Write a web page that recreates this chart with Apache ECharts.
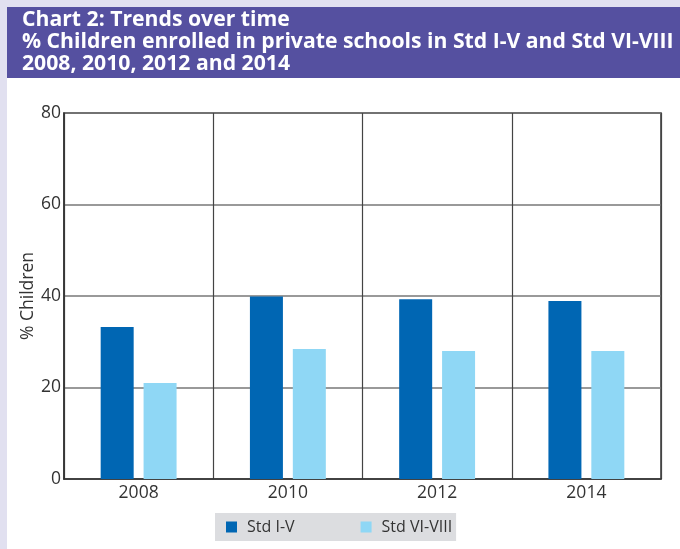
<!DOCTYPE html>
<html><head><meta charset="utf-8">
<script src="https://cdn.jsdelivr.net/npm/echarts@6/dist/echarts.min.js"></script>
<style>html,body{margin:0;padding:0;background:#e1e0f0;}#c{width:680px;height:549px;}</style>
</head><body><div id="c"></div>
<script>
const categories = ['2008', '2010', '2012', '2014'];
const stdIV = [33.2, 39.9, 39.3, 38.9];
const stdVIVIII = [21.0, 28.4, 28.0, 28.0];
const seriesNames = ['Std I-V', 'Std VI-VIII'];
const titleLines = ['Chart 2: Trends over time', '% Children enrolled in private schools in Std I-V and Std VI-VIII', '2008, 2010, 2012 and 2014'];

const font = 'Open Sans';
const chart = echarts.init(document.getElementById('c'));
chart.setOption({
  animation: false,
  backgroundColor: '#e1e0f0',
  graphic: [
    {type: 'rect', z: -10, shape: {x: 7, y: 7, width: 673, height: 71}, style: {fill: '#5550a0'}},
    {type: 'rect', z: -10, shape: {x: 7, y: 78, width: 673, height: 471}, style: {fill: '#ffffff'}}
  ],
  title: {
    text: titleLines.join('\n'),
    left: 17, top: 4,
    textStyle: {color: '#ffffff', fontWeight: 'bold', fontSize: 21.2, lineHeight: 22, fontFamily: font}
  },
  legend: {
    left: 215, top: 513,
    data: seriesNames,
    icon: 'rect', itemWidth: 11, itemHeight: 11, itemGap: 66,
    backgroundColor: '#dcdde0',
    padding: [6, 4, 6, 11],
    textStyle: {fontSize: 16, color: '#333', fontFamily: font, padding: [0, 0, 0, 5]}
  },
  grid: {left: 64, right: 19, top: 113, bottom: 70, show: true, borderColor: '#333', borderWidth: 1.5},
  xAxis: {
    type: 'category', data: categories,
    axisLine: {lineStyle: {color: '#333', width: 1.5}},
    axisTick: {show: false},
    axisLabel: {fontSize: 17.5, color: '#333', fontFamily: font, margin: 5},
    splitLine: {show: true, lineStyle: {color: '#444', width: 1.2}}
  },
  yAxis: {
    type: 'value', min: 0, max: 80, interval: 20,
    name: '% Children', nameLocation: 'middle', nameGap: 27, nameMoveOverlap: false,
    nameTextStyle: {fontSize: 17.5, color: '#333', fontFamily: font},
    axisLine: {show: true, lineStyle: {color: '#333', width: 1.5}},
    axisTick: {show: false},
    axisLabel: {fontSize: 17.5, color: '#333', fontFamily: font, margin: 3},
    splitLine: {lineStyle: {color: '#777', width: 1.5}}
  },
  series: [
    {name: seriesNames[0], type: 'bar', data: stdIV, barWidth: 33, barGap: '30%', itemStyle: {color: '#0066b3'}},
    {name: seriesNames[1], type: 'bar', data: stdVIVIII, barWidth: 33, itemStyle: {color: '#8fd7f5'}}
  ]
});
</script></body></html>
